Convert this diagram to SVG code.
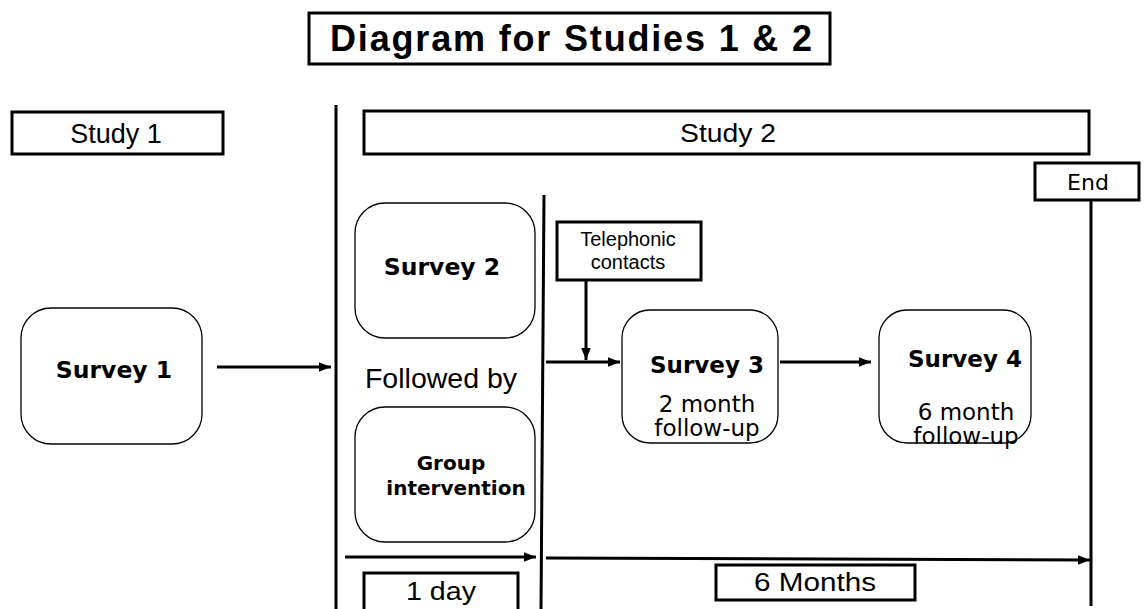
<svg xmlns="http://www.w3.org/2000/svg" width="1145" height="609" viewBox="0 0 1145 609">
<defs>
<style>
.box{fill:#fff;stroke:#000;stroke-width:3}
.rbox{fill:#fff;stroke:#000;stroke-width:1.3}
.ln{stroke:#000;stroke-width:3;fill:none}
.arr{stroke:#000;stroke-width:3;fill:none;marker-end:url(#ah)}
.t{font-family:"Liberation Sans",Arial,sans-serif;fill:#000;text-anchor:middle}
.v{font-family:"DejaVu Sans",Verdana,sans-serif;fill:#000;text-anchor:middle}
.b{font-weight:bold}
</style>
<marker id="ah" viewBox="0 0 10 10" refX="10" refY="5" markerWidth="4" markerHeight="4" orient="auto" markerUnits="strokeWidth">
<path d="M0,1 L10,5 L0,9 z" fill="#000"/>
</marker>
</defs>
<rect width="1145" height="609" fill="#fff"/>
<g id="title">
<rect class="box" x="309" y="13" width="521" height="51" stroke-width="2.5"/>
<text class="t b" x="571" y="51" font-size="36" textLength="482" lengthAdjust="spacing">Diagram for Studies 1 &amp; 2</text>
</g>
<g id="study1">
<rect class="box" x="12" y="112" width="211" height="42"/>
<text class="t" x="116" y="143" font-size="27">Study 1</text>
</g>
<g id="study2">
<rect class="box" x="364" y="111" width="725" height="43"/>
<text class="t" x="728" y="142" font-size="26" textLength="96" lengthAdjust="spacingAndGlyphs">Study 2</text>
</g>
<g id="end">
<rect class="box" x="1035" y="163" width="104" height="37"/>
<text class="v" x="1088" y="190" font-size="22">End</text>
</g>
<g id="connectors">
<line class="ln" x1="336" y1="105" x2="336" y2="609"/>
<line class="ln" x1="544" y1="195" x2="541" y2="609"/>
<line class="ln" x1="1091" y1="200" x2="1091" y2="606"/>
<line class="arr" x1="217" y1="367" x2="331" y2="367"/>
<line class="arr" x1="546" y1="362" x2="620" y2="362"/>
<line class="arr" x1="586" y1="281" x2="586" y2="360"/>
<line class="arr" x1="780" y1="362" x2="871" y2="362"/>
<line class="arr" x1="345" y1="557" x2="536" y2="557"/>
<line class="arr" x1="546" y1="558" x2="1090" y2="560"/>
</g>
<g id="survey1">
<rect class="rbox" x="21" y="308" width="181" height="136" rx="30"/>
<text class="v b" x="114" y="378" font-size="23.5">Survey 1</text>
</g>
<g id="survey2">
<rect class="rbox" x="355" y="203" width="180" height="135" rx="30"/>
<text class="v b" x="442" y="275" font-size="23.5">Survey 2</text>
</g>
<g id="followed">
<text class="t" x="441" y="388" font-size="28.5">Followed by</text>
</g>
<g id="group">
<rect class="rbox" x="355" y="407" width="180" height="135" rx="30"/>
<text class="v b" x="451" y="470" font-size="20">Group</text>
<text class="v b" x="456" y="495" font-size="20">intervention</text>
</g>
<g id="telephonic">
<rect class="box" x="557" y="222" width="144" height="58"/>
<text class="t" x="628" y="246" font-size="20">Telephonic</text>
<text class="t" x="628" y="269" font-size="20">contacts</text>
</g>
<g id="survey3">
<rect class="rbox" x="622" y="310" width="156" height="133" rx="28"/>
<text class="v b" x="707" y="373" font-size="23">Survey 3</text>
<text class="v" x="707" y="412" font-size="23">2 month</text>
<text class="v" x="707" y="436" font-size="23">follow-up</text>
</g>
<g id="survey4">
<rect class="rbox" x="879" y="310" width="152" height="133" rx="28"/>
<text class="v b" x="965" y="367" font-size="23">Survey 4</text>
<text class="v" x="966" y="420" font-size="23">6 month</text>
<text class="v" x="966" y="444" font-size="23">follow-up</text>
</g>
<g id="oneday">
<polyline class="ln" points="364,609 364,573 518,573 518,609"/>
<text class="t" x="441" y="600" font-size="25" textLength="70" lengthAdjust="spacingAndGlyphs">1 day</text>
</g>
<g id="sixmonths">
<rect class="box" x="716" y="565" width="199" height="35"/>
<text class="t" x="815" y="591" font-size="25" textLength="122" lengthAdjust="spacingAndGlyphs">6 Months</text>
</g>
</svg>
